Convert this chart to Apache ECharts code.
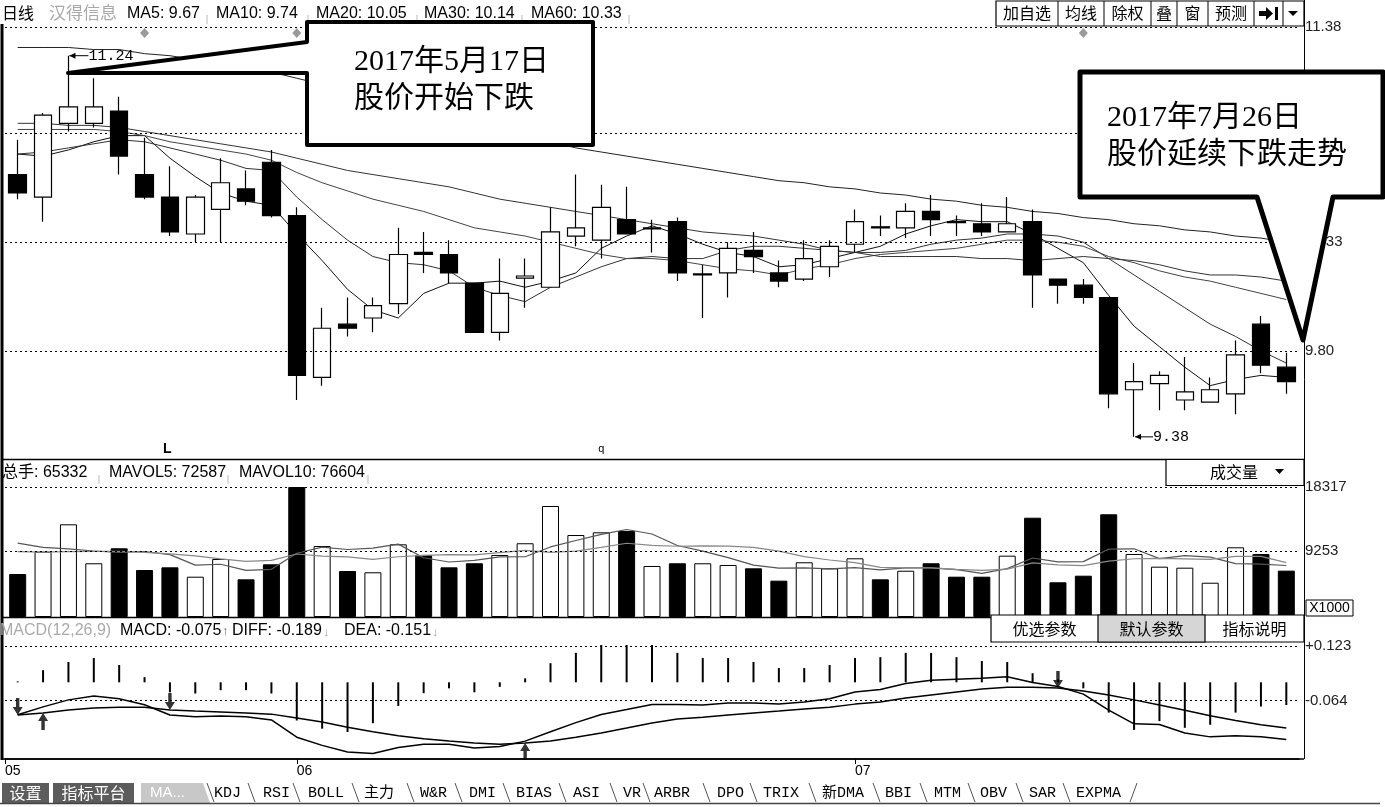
<!DOCTYPE html>
<html>
<head>
<meta charset="utf-8">
<title>汉得信息 日线</title>
<script src="https://cdn.jsdelivr.net/npm/echarts@6.0.0/dist/echarts.min.js"></script>
<style>
html,body{margin:0;padding:0;background:#fff;}
#chart{width:1385px;height:807px;}
</style>
</head>
<body>
<div id="chart"></div>
<script>
// ---------------- DATA ----------------
const dates = ['2017-05-15','2017-05-16','2017-05-17','2017-05-18','2017-05-19','2017-05-22','2017-05-23','2017-05-24','2017-05-25','2017-05-26','2017-05-31',
  '2017-06-01','2017-06-02','2017-06-05','2017-06-06','2017-06-07','2017-06-08','2017-06-09','2017-06-12','2017-06-13','2017-06-14','2017-06-15','2017-06-16','2017-06-19','2017-06-20','2017-06-21','2017-06-22','2017-06-23','2017-06-26','2017-06-27','2017-06-28','2017-06-29','2017-06-30',
  '2017-07-03','2017-07-04','2017-07-05','2017-07-06','2017-07-07','2017-07-10','2017-07-11','2017-07-12','2017-07-13','2017-07-14','2017-07-17','2017-07-18','2017-07-19','2017-07-20','2017-07-21','2017-07-24','2017-07-25','2017-07-26'];

const openP  = [10.66,10.55,10.91,10.91,10.97,10.66,10.55,10.37,10.49,10.59,10.72,10.46,9.67,9.93,9.96,10.03,10.28,10.27,10.13,9.89,10.155,10.11,10.36,10.34,10.44,10.395,10.43,10.17,10.18,10.29,10.18,10.15,10.21,10.32,10.405,10.40,10.48,10.43,10.42,10.38,10.43,10.15,10.12,10.06,9.61,9.64,9.56,9.55,9.59,9.93,9.72];
const closeP = [10.57,10.95,10.99,10.99,10.75,10.55,10.38,10.55,10.62,10.53,10.46,9.68,9.91,9.91,10.02,10.27,10.27,10.18,9.89,10.08,10.165,10.38,10.40,10.50,10.37,10.40,10.18,10.175,10.30,10.26,10.14,10.25,10.31,10.43,10.40,10.48,10.44,10.425,10.38,10.42,10.17,10.12,10.06,9.59,9.65,9.68,9.60,9.61,9.78,9.73,9.65];
const lowP   = [10.54,10.43,10.87,10.89,10.66,10.54,10.36,10.33,10.33,10.51,10.45,9.56,9.63,9.87,9.89,9.98,10.18,10.13,9.89,9.85,10.01,10.11,10.31,10.25,10.37,10.28,10.14,9.96,10.06,10.18,10.11,10.14,10.16,10.28,10.36,10.35,10.36,10.36,10.36,10.38,10.01,10.03,10.03,9.52,9.38,9.51,9.51,9.55,9.49,9.69,9.59];
const highP  = [10.83,10.96,11.24,11.13,11.04,10.84,10.70,10.56,10.74,10.68,10.78,10.50,10.01,10.06,10.06,10.40,10.38,10.34,10.13,10.25,10.25,10.50,10.66,10.61,10.60,10.44,10.45,10.22,10.33,10.38,10.24,10.34,10.34,10.49,10.46,10.52,10.56,10.46,10.52,10.55,10.49,10.15,10.15,10.06,9.74,9.70,9.77,9.67,9.85,9.97,9.79];

const ma5  = [10.76,10.75,10.78,10.82,10.85,10.85,10.74,10.65,10.57,10.53,10.51,10.37,10.24,10.10,10.00,9.96,10.08,10.13,10.13,10.14,10.11,10.14,10.18,10.30,10.36,10.41,10.37,10.32,10.28,10.26,10.21,10.22,10.25,10.28,10.31,10.37,10.41,10.44,10.43,10.43,10.37,10.30,10.23,10.07,9.92,9.82,9.72,9.63,9.66,9.68,9.67];
const ma10 = [10.76,10.77,10.79,10.81,10.83,10.82,10.79,10.76,10.73,10.69,10.68,10.55,10.44,10.34,10.26,10.23,10.22,10.19,10.11,10.07,10.04,10.11,10.16,10.21,10.25,10.26,10.25,10.25,10.29,10.31,10.31,10.30,10.29,10.28,10.28,10.29,10.32,10.34,10.35,10.37,10.37,10.36,10.33,10.25,10.17,10.09,10.01,9.93,9.87,9.80,9.74];
const ma20 = [10.88,10.88,10.88,10.88,10.87,10.85,10.82,10.80,10.78,10.76,10.73,10.67,10.62,10.58,10.54,10.51,10.48,10.44,10.40,10.38,10.36,10.33,10.30,10.27,10.25,10.25,10.24,10.22,10.20,10.19,10.17,10.20,10.22,10.25,10.27,10.28,10.29,10.30,10.32,10.34,10.34,10.33,10.31,10.26,10.23,10.19,10.16,10.14,10.11,10.08,10.05];
const ma30 = [10.91,10.91,10.90,10.90,10.89,10.87,10.85,10.83,10.81,10.79,10.77,10.74,10.71,10.68,10.66,10.64,10.62,10.60,10.57,10.54,10.52,10.50,10.48,10.46,10.44,10.42,10.40,10.38,10.37,10.36,10.34,10.32,10.29,10.28,10.26,10.26,10.26,10.26,10.25,10.25,10.24,10.25,10.26,10.25,10.24,10.22,10.19,10.17,10.17,10.16,10.14];
const ma60 = [11.28,11.28,11.28,11.27,11.27,11.25,11.24,11.22,11.20,11.18,11.16,11.13,11.10,11.07,11.04,11.01,10.98,10.94,10.91,10.88,10.85,10.82,10.79,10.77,10.75,10.73,10.71,10.69,10.67,10.65,10.63,10.62,10.60,10.59,10.57,10.56,10.54,10.53,10.51,10.50,10.48,10.47,10.45,10.44,10.42,10.41,10.39,10.38,10.36,10.35,10.33];

const volume  = [6060,9200,13060,7570,9680,6620,7000,5680,8170,5310,7420,18317,10000,6480,6300,10240,8740,7000,7570,8740,10390,15640,11550,11930,12120,7190,7570,7570,7330,6860,5120,7710,6860,8270,5310,6520,7570,5680,5680,8640,13990,4890,5820,14470,8880,7090,6950,4830,9820,8880,6533];
const mavol5  = [10400,9800,9600,9300,9110,9230,8790,7310,7430,6560,6720,8980,9840,9510,9700,10270,8350,7750,7970,8460,8490,9870,10780,11650,12330,11690,10070,9280,8360,7300,6890,6920,6780,6960,6650,6930,6910,6670,6150,6820,8310,7780,7800,9560,9610,8230,8640,8440,7510,7450,7259];
const mavol10 = [9200,9150,9200,9250,9250,9100,8900,8600,8200,7840,7970,8880,8580,8470,8130,8490,8670,8800,8740,9080,9380,9110,9270,9810,10390,10090,9970,10030,10000,9820,9290,8500,8030,7660,6980,6910,6910,6720,6560,6740,7620,7340,7240,7860,8210,8270,8200,8120,8530,8550,7660];

const macdHist = [0.003,0.04,0.067,0.08,0.057,0.017,-0.033,-0.037,-0.026,-0.026,-0.037,-0.126,-0.153,-0.164,-0.135,-0.078,-0.036,-0.02,-0.033,-0.015,0.013,0.063,0.097,0.123,0.123,0.123,0.097,0.08,0.08,0.067,0.047,0.047,0.057,0.08,0.083,0.097,0.097,0.083,0.07,0.067,0.03,0.01,-0.02,-0.1,-0.157,-0.128,-0.15,-0.14,-0.1,-0.08,-0.075];
const diff = [-0.107,-0.081,-0.058,-0.045,-0.054,-0.074,-0.108,-0.114,-0.111,-0.114,-0.124,-0.181,-0.208,-0.230,-0.235,-0.215,-0.204,-0.204,-0.217,-0.212,-0.194,-0.163,-0.133,-0.106,-0.090,-0.073,-0.073,-0.075,-0.068,-0.068,-0.072,-0.065,-0.054,-0.032,-0.024,-0.004,0.007,0.010,0.013,0.018,-0.001,-0.014,-0.039,-0.092,-0.137,-0.139,-0.167,-0.180,-0.176,-0.180,-0.189];
const dea  = [-0.108,-0.101,-0.091,-0.085,-0.082,-0.082,-0.091,-0.095,-0.098,-0.101,-0.105,-0.118,-0.131,-0.148,-0.163,-0.176,-0.186,-0.194,-0.200,-0.204,-0.200,-0.194,-0.181,-0.167,-0.151,-0.134,-0.121,-0.115,-0.108,-0.101,-0.095,-0.088,-0.082,-0.072,-0.065,-0.052,-0.042,-0.032,-0.022,-0.016,-0.016,-0.019,-0.029,-0.042,-0.058,-0.075,-0.092,-0.110,-0.126,-0.140,-0.151];

const priceTicks = [11.38, 10.855, 10.33, 9.80];
const priceTickLabels = ['11.38', '10.86', '10.33', '9.80'];
const volTicks = [18317, 9253];
const volTickLabels = ['18317', '9253'];
const macdTicks = [0.123, -0.064];
const macdTickLabels = ['+0.123', '-0.064'];
const monthTickPos = [-0.5, 11, 33];
const monthLabels = ['05', '06', '07'];
const crossDown = [0, 6, 41];
const crossUp = [1, 20];
const eventIdx = [5, 11, 42];
const highIdx = 2;
const lowIdx = 44;

// ---------------- CHART ----------------
const chart = echarts.init(document.getElementById('chart'), null, {renderer: 'canvas'});
const SANS = '"Liberation Sans", "Noto Sans CJK SC", sans-serif';
const CJK = '"Noto Sans CJK SC", sans-serif';
const MONO = '"Liberation Mono", "Noto Sans CJK SC", monospace';
const SERIF = '"Liberation Serif", "Noto Sans CJK SC", serif';

const GL = 5, GW = 1294;
const dotted = {color: '#000', width: 1, type: [2, 3]};

function tickLines(values, labels) {
  return {
    silent: true, symbol: ['none', 'none'], animation: false,
    lineStyle: dotted,
    label: {show: true, position: 'end', distance: 6, color: '#222', fontSize: 15, fontFamily: '"Liberation Sans"'},
    emphasis: {disabled: true},
    data: values.map((v, i) => ({yAxis: v, label: {formatter: labels[i]}}))
  };
}
function lineSeries(name, data, color, xi, w) {
  return {type: 'line', name, data, xAxisIndex: xi, yAxisIndex: xi, symbol: 'none', showSymbol: false,
    silent: true, lineStyle: {color, width: w || 1}, z: 3};
}
const catAxis = gi => ({type: 'category', gridIndex: gi, data: dates, boundaryGap: true,
  axisLine: {show: false}, axisTick: {show: false}, axisLabel: {show: false}, splitLine: {show: false}});

const downArrow = 'path://M3.3,0 L6.7,0 L6.7,9 L10,9 L5,17 L0,9 L3.3,9 Z';
const upArrow = 'path://M5,0 L10,8 L6.7,8 L6.7,17 L3.3,17 L3.3,8 L0,8 Z';

const option = {
  animation: false,
  backgroundColor: '#fff',
  grid: [
    {left: GL, width: GW, top: 27, height: 432},
    {left: GL, width: GW, top: 487, height: 130},
    {left: GL, width: GW, top: 645, height: 114}
  ],
  xAxis: [
    catAxis(0), catAxis(1), catAxis(2),
    {type: 'value', gridIndex: 2, min: -0.5, max: 50.5, position: 'bottom',
      axisLine: {show: true, lineStyle: {color: '#000', width: 1.5}},
      axisTick: {show: true, customValues: monthTickPos, length: 5, lineStyle: {color: '#000'}},
      axisLabel: {show: true, customValues: monthTickPos, align: 'left', margin: 5, fontSize: 14,
        fontFamily: '"Liberation Sans"', color: '#000',
        formatter: v => { const k = monthTickPos.findIndex(t => Math.abs(t - v) < 1e-6); return k >= 0 ? monthLabels[k] : ''; }},
      splitLine: {show: false}}
  ],
  yAxis: [
    {type: 'value', gridIndex: 0, min: 9.272, max: 11.38, show: false},
    {type: 'value', gridIndex: 1, min: 0, max: 18317, show: false},
    {type: 'value', gridIndex: 2, min: -0.253, max: 0.123, show: false}
  ],
  series: [
    {type: 'candlestick', name: 'K', xAxisIndex: 0, yAxisIndex: 0, barWidth: 18, silent: true,
      data: dates.map((d, i) => [openP[i], closeP[i], lowP[i], highP[i]]),
      itemStyle: {color: '#fff', color0: '#000', borderColor: '#000', borderColor0: '#000', borderWidth: 1.2},
      markLine: tickLines(priceTicks, priceTickLabels), z: 4},
    lineSeries('MA5', ma5, '#111', 0),
    lineSeries('MA10', ma10, '#333', 0),
    lineSeries('MA20', ma20, '#444', 0),
    lineSeries('MA30', ma30, '#333', 0),
    lineSeries('MA60', ma60, '#222', 0),
    {type: 'bar', name: 'VOL', xAxisIndex: 1, yAxisIndex: 1, barWidth: 17, silent: true,
      data: volume.map((v, i) => ({value: v, itemStyle: {color: closeP[i] > openP[i] ? '#fff' : '#000', borderColor: '#000', borderWidth: 1}})),
      markLine: tickLines(volTicks, volTickLabels)},
    lineSeries('MAVOL5', mavol5, '#555', 1, 1.2),
    lineSeries('MAVOL10', mavol10, '#888', 1, 1.2),
    {type: 'bar', name: 'MACD', xAxisIndex: 2, yAxisIndex: 2, barWidth: 2, silent: true,
      data: macdHist, itemStyle: {color: '#000'}, markLine: tickLines(macdTicks, macdTickLabels)},
    lineSeries('DIFF', diff, '#000', 2, 1.5),
    lineSeries('DEA', dea, '#000', 2, 1.5),
    {type: 'scatter', xAxisIndex: 2, yAxisIndex: 2, symbol: downArrow, symbolSize: [10, 17], symbolOffset: [0, '-50%'],
      silent: true, itemStyle: {color: '#000'}, data: crossDown.map(i => [i, dea[i]]), z: 5},
    {type: 'scatter', xAxisIndex: 2, yAxisIndex: 2, symbol: upArrow, symbolSize: [10, 17], symbolOffset: [0, '50%'],
      silent: true, itemStyle: {color: '#000'}, data: crossUp.map(i => [i, dea[i]]), z: 5}
  ]
};
chart.setOption(option);

// ---------------- GRAPHIC HELPERS ----------------
function T(text, x, y, o) {
  o = o || {};
  return {type: 'text', z: o.z || 60, silent: true,
    style: {text, x, y, fill: o.fill || '#000', font: o.font || ('16px ' + SANS),
      textAlign: o.align || 'left', textVerticalAlign: o.va || 'middle',
      align: o.align || 'left', verticalAlign: o.va || 'middle'}};
}
function L(x1, y1, x2, y2, o) {
  o = o || {};
  return {type: 'line', z: o.z || 60, silent: true, shape: {x1, y1, x2, y2},
    style: {stroke: o.stroke || '#000', lineWidth: o.w || 1}};
}
function R(x, y, w, h, o) {
  o = o || {};
  return {type: 'rect', z: o.z || 60, silent: true, shape: {x, y, width: w, height: h},
    style: {fill: o.fill || 'none', stroke: o.stroke || '#000', lineWidth: o.w === undefined ? 1 : o.w}};
}
function P(points, o) {
  o = o || {};
  return {type: 'polygon', z: o.z || 60, silent: true, shape: {points},
    style: {fill: o.fill || '#000', stroke: o.stroke || 'none', lineWidth: o.w || 1, lineJoin: 'round'}};
}

const g = [];
// header row
g.push(T('日线', 2, 13, {font: '16px ' + CJK}));
g.push(T('汉得信息', 49, 13, {font: '17px ' + CJK, fill: '#a8a8a8'}));
[['MA5: 9.67', 127], ['MA10: 9.74', 216], ['MA20: 10.05', 316], ['MA30: 10.14', 424], ['MA60: 10.33', 531]]
  .forEach(a => g.push(T(a[0], a[1], 14)));
[207, 308, 417, 522, 629].forEach(x => g.push(L(x, 15, x, 24, {stroke: '#bbb'})));
// header buttons
g.push(R(996, 1, 308, 25, {w: 1.2}));
[1058, 1104, 1151, 1177, 1208, 1254, 1283].forEach(x => g.push(L(x, 1, x, 26)));
[['加自选', 1027], ['均线', 1081], ['除权', 1127.5], ['叠', 1164], ['窗', 1192.5], ['预测', 1231]]
  .forEach(a => g.push(T(a[0], a[1], 13, {font: '16px ' + CJK, align: 'center'})));
g.push(P([[1259, 11], [1266, 11], [1266, 7], [1273, 13.5], [1266, 20], [1266, 16], [1259, 16]]));
g.push(R(1275, 7, 3, 13, {fill: '#000', w: 0}));
g.push(P([[1288, 11], [1298, 11], [1293, 16]]));

// frame lines
g.push(L(2, 24, 2, 760, {w: 3}));
g.push(L(1304.5, 0, 1304.5, 759, {w: 1}));
g.push(L(3, 459.5, 1304, 459.5, {w: 1.5}));
g.push(L(3, 617.5, 1304, 617.5, {w: 1.5}));
g.push(L(3, 759, 1304, 759, {w: 1.5}));

// volume header
g.push(T('总手: 65332', 2, 473));
g.push(T('MAVOL5: 72587', 109, 473));
g.push(T('MAVOL10: 76604', 239, 473));
[99, 228, 368].forEach(x => g.push(L(x, 475, x, 484, {stroke: '#bbb'})));
g.push(R(1166, 459.5, 138, 26, {w: 1.2, fill: '#fff'}));
g.push(T('成交量', 1234, 472, {font: '16px ' + CJK, align: 'center'}));
g.push(P([[1275, 469], [1284, 469], [1279.5, 474]]));
g.push(R(1306, 600, 47, 16, {w: 1}));
g.push(T('X1000', 1329.5, 608.5, {font: '14px "Liberation Sans"', align: 'center'}));

// MACD header
g.push(T('MACD(12,26,9)', 0, 631, {fill: '#aaa'}));
g.push(T('MACD: -0.075', 120, 631));
g.push(T('↑', 222, 631, {fill: '#666', font: '13px ' + SANS}));
g.push(T('DIFF: -0.189', 232, 631));
g.push(T('↓', 323, 632, {fill: '#aaa', font: '13px ' + SANS}));
g.push(T('DEA: -0.151', 344, 631));
g.push(T('↓', 432, 632, {fill: '#aaa', font: '13px ' + SANS}));
g.push(R(991, 615, 313, 27, {fill: '#fff', w: 1.2}));
g.push(R(1098, 615, 107, 27, {fill: '#d6d6d6', w: 1.2}));
[['优选参数', 1044.5], ['默认参数', 1151.5], ['指标说明', 1254.5]]
  .forEach(a => g.push(T(a[0], a[1], 629, {font: '16px ' + CJK, align: 'center'})));

// tab bar
g.push(R(2, 783, 47, 20, {fill: '#5c5c5c', w: 0}));
g.push(T('设置', 25.5, 793, {font: '16px ' + CJK, fill: '#fff', align: 'center'}));
g.push(R(53, 783, 81, 20, {fill: '#5c5c5c', w: 0}));
g.push(T('指标平台', 93.5, 793, {font: '16px ' + CJK, fill: '#fff', align: 'center'}));
g.push(P([[141, 783], [203, 783], [210, 803], [141, 803]], {fill: '#c8c8c8'}));
g.push(T('MA...', 150, 793, {font: '15px ' + SANS, fill: '#fff'}));
[['KDJ', 214], ['RSI', 263], ['BOLL', 308], ['主力', 364], ['W&R', 420], ['DMI', 469], ['BIAS', 516], ['ASI', 573],
 ['VR', 623], ['ARBR', 654], ['DPO', 717], ['TRIX', 763], ['新DMA', 822], ['BBI', 885], ['MTM', 934], ['OBV', 980],
 ['SAR', 1029], ['EXPMA', 1076]].forEach(a => g.push(T(a[0], a[1], 793, {font: '15px ' + MONO})));
[207, 248, 293, 352, 407, 455, 503, 559, 610, 643, 703, 750, 809, 873, 920, 968, 1016, 1063]
  .forEach(x => g.push(L(x, 783, x + 7, 802, {stroke: '#555'})));
g.push(L(1130, 802, 1137, 783, {stroke: '#555'}));
g.push(L(0, 803.5, 1380, 803.5, {w: 1.5, stroke: '#444'}));

// odd labels in price area
g.push(T('L', 163, 449, {font: 'bold 14px "Liberation Sans"'}));
g.push(T('q', 598, 449, {font: '11px "Liberation Mono"'}));

// event diamonds on the price axis top
eventIdx.forEach(i => {
  const x = chart.convertToPixel({xAxisIndex: 0}, i);
  g.push(P([[x, 28], [x + 4.5, 33], [x, 38], [x - 4.5, 33]], {fill: '#9a9a9a'}));
});

// high / low labels
const hp = chart.convertToPixel({xAxisIndex: 0, yAxisIndex: 0}, [highIdx, highP[highIdx]]);
g.push(L(hp[0] + 1, hp[1], hp[0] + 20, hp[1]));
g.push(P([[hp[0] + 1, hp[1]], [hp[0] + 7, hp[1] - 3], [hp[0] + 7, hp[1] + 3]]));
g.push(T(highP[highIdx].toFixed(2), hp[0] + 20, hp[1], {font: '15px ' + MONO}));
const lp = chart.convertToPixel({xAxisIndex: 0, yAxisIndex: 0}, [lowIdx, lowP[lowIdx]]);
g.push(L(lp[0] + 1, lp[1], lp[0] + 19, lp[1]));
g.push(P([[lp[0] + 1, lp[1]], [lp[0] + 7, lp[1] - 3], [lp[0] + 7, lp[1] + 3]]));
g.push(T(lowP[lowIdx].toFixed(2), lp[0] + 19, lp[1], {font: '15px ' + MONO}));

// callouts
g.push(P([[307, 22], [593, 22], [593, 145], [307, 145], [307, 73], [68, 73], [307, 42]],
  {fill: '#fff', stroke: '#000', w: 4, z: 100}));
g.push(T('2017年5月17日', 354, 62, {font: '30px ' + SERIF, z: 101}));
g.push(T('股价开始下跌', 354, 99, {font: '30px ' + SERIF, z: 101}));
g.push(P([[1080, 72], [1383, 72], [1383, 197], [1333, 197], [1303, 340], [1257, 197], [1080, 197]],
  {fill: '#fff', stroke: '#000', w: 5, z: 100}));
g.push(T('2017年7月26日', 1107, 118, {font: '30px ' + SERIF, z: 101}));
g.push(T('股价延续下跌走势', 1107, 155, {font: '30px ' + SERIF, z: 101}));

chart.setOption({graphic: g});
</script>
</body>
</html>
